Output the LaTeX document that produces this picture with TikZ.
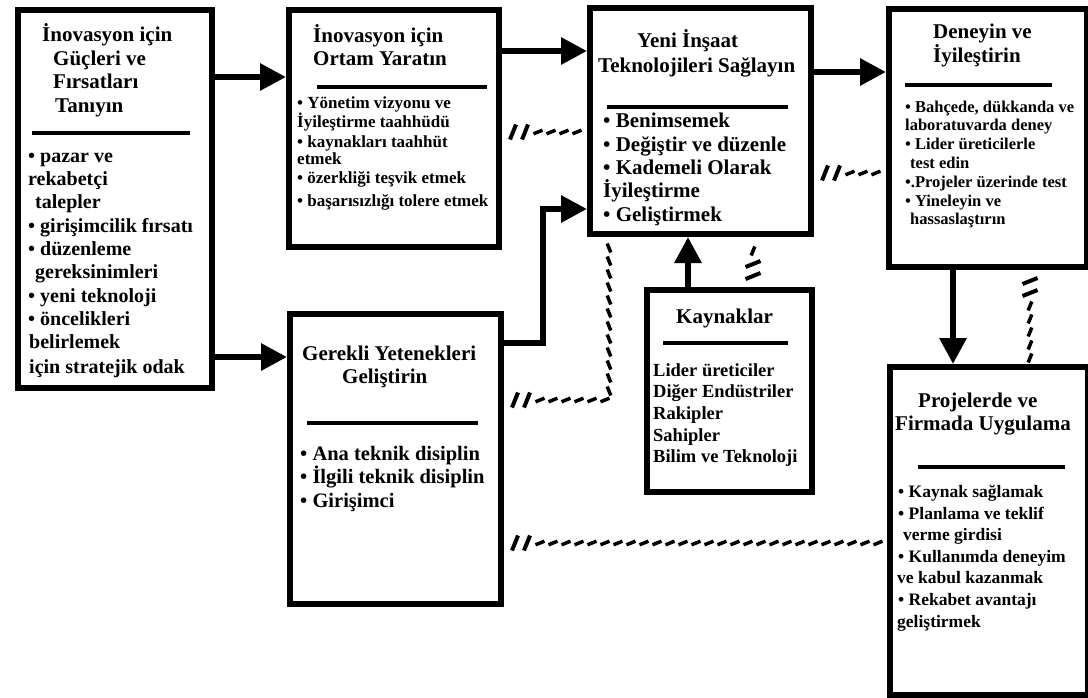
\documentclass[tikz,border=0pt]{standalone}
\usepackage{fontspec}
\setmainfont{Liberation Serif}
\usetikzlibrary{arrows.meta,decorations.markings}

\tikzset{
  box/.style={draw=black, line width=6pt, fill=white, inner sep=0pt, anchor=north west},
  txt/.style={font=\fontsize{#1}{#1}\selectfont\bfseries, anchor=base west, inner sep=0pt, text=black},
  rule/.style={line width=3.5pt},
  flow/.style={line width=6pt, -{Triangle[length=26pt,width=26pt]}},
  hatchstroke/.style={line width=4pt},
  dashstroke/.style={line width=3.5pt},
  % hatched feedback link; the value (1 or -1) sets the slant side
  fb/.style={postaction={decorate,decoration={markings,
      mark=at position 11pt with {\draw[hatchstroke] (-3pt,{-7.5pt*(#1)}) -- (3pt,{7.5pt*(#1)});},
      mark=at position 23pt with {\draw[hatchstroke] (-3pt,{-7.5pt*(#1)}) -- (3pt,{7.5pt*(#1)});},
      mark=between positions 36pt and -5pt step 13pt with
        {\draw[dashstroke] (-4.5pt,{-1.8pt*(#1)}) -- (4.5pt,{1.8pt*(#1)});}}}},
  fb/.default=1
}

% one text node per line: name prefix, size, list of x/y/text
\newcommand\txtlines[3]{%
  \foreach \x/\y/\t [count=\i] in {#3} {\node[txt=#2] (#1-\i) at (\x,\y) {\t};}}

\begin{document}
\begin{tikzpicture}[x=1pt,y=-1pt]
\useasboundingbox[fill=white] (0,0) rectangle (1088,697);

% boxes
\node[box, minimum width=194pt, minimum height=378pt] (b1) at (15,7) {};
\node[box, minimum width=210pt, minimum height=237pt] (b2) at (286,7) {};
\node[box, minimum width=221pt, minimum height=226pt] (b3) at (587,5) {};
\node[box, minimum width=198pt, minimum height=258pt] (b4) at (886,6) {};
\node[box, minimum width=211pt, minimum height=290pt] (b5) at (287,311) {};
\node[box, minimum width=165pt, minimum height=202pt] (b6) at (644,287) {};
\node[box, minimum width=198pt, minimum height=328pt] (b7) at (887,364) {};

% box 1
\txtlines{h1}{21}{42/41/İnovasyon için, 53/65/Güçleri ve, 53/88/Fırsatları, 55/112/Tanıyın}
\draw[rule] (32,133) -- (190,133);
\txtlines{l1}{20}{28/162/• pazar ve, 28/185/rekabetçi, 35/208/talepler,
  28/232/• girişimcilik fırsatı, 28/255/• düzenleme, 35/278/gereksinimleri,
  28/302/• yeni teknoloji, 28/325/• öncelikleri, 29/348/belirlemek, 29/373/için stratejik odak}

% box 2
\txtlines{h2}{21}{313/42/İnovasyon için, 313/65/Ortam Yaratın}
\draw[rule] (317,87) -- (487,87);
\txtlines{l2}{17}{297/108/• Yönetim vizyonu ve, 297/127/İyileştirme taahhüdü,
  297/147/• kaynakları taahhüt, 297/164/etmek, 297/183/• özerkliği teşvik etmek,
  297/206/• başarısızlığı tolere etmek}

% box 3
\txtlines{h3}{21}{637/47/Yeni İnşaat, 598/72/Teknolojileri Sağlayın}
\draw[rule] (607,107) -- (788,107);
\txtlines{l3}{21}{603/127/• Benimsemek, 603/151/• Değiştir ve düzenle,
  603/174/• Kademeli Olarak, 603/197/İyileştirme, 603/221/• Geliştirmek}

% box 4
\txtlines{h4}{21}{933/38/Deneyin ve, 933/62/İyileştirin}
\draw[rule] (905,85) -- (1052,85);
\txtlines{l4}{16.5}{905/112/{• Bahçede, dükkanda ve}, 905/130/laboratuvarda deney,
  905/149/• Lider üreticilerle, 910/168/test edin, 905/187/•.Projeler üzerinde test,
  905/206/• Yineleyin ve, 910/224/hassaslaştırın}

% box 5
\txtlines{h5}{21}{302/360/Gerekli Yetenekleri, 342/383/Geliştirin}
\draw[rule] (307,423) -- (478,423);
\txtlines{l5}{20.5}{300/460/• Ana teknik disiplin, 300/483/• İlgili teknik disiplin,
  300/507/• Girişimci}

% box 6
\txtlines{h6}{21}{676/323/Kaynaklar}
\draw[rule] (663,343) -- (788,343);
\txtlines{l6}{18.5}{653/376/Lider üreticiler, 653/397/Diğer Endüstriler,
  653/419/Rakipler, 653/441/Sahipler, 653/462/Bilim ve Teknoloji}

% box 7
\txtlines{h7}{21}{918/407/Projelerde ve, 895/430/Firmada Uygulama}
\draw[rule] (918,467) -- (1065,467);
\txtlines{l7}{17.5}{898/497/• Kaynak sağlamak, 898/519/• Planlama ve teklif,
  903/540/verme girdisi, 898/562/• Kullanımda deneyim, 897/583/ve kabul kazanmak,
  898/605/• Rekabet avantajı, 897/627/geliştirmek}

% main flow
\draw[flow] (b1.east |- 0,77) -- (b2.west |- 0,77);
\draw[flow] (b1.east |- 0,357) -- (b5.west |- 0,357);
\draw[flow] (b2.east |- 0,51) -- (b3.west |- 0,51);
\draw[flow] (b5.east |- 0,343) -- (543,343) -- (543,209) -- (b3.west |- 0,209);
\draw[flow] (b3.east |- 0,72) -- (b4.west |- 0,72);
\draw[flow] (b6.north -| 688,0) -- (b3.south -| 688,0);
\draw[flow] (b4.south -| 953,0) -- (b7.north -| 953,0);

% feedback links
\path[fb] (b2.east |- 0,132) -- (b3.west |- 0,132);
\path[fb] (b3.east |- 0,173) -- (b4.west |- 0,173);
\path[fb] (b5.east |- 0,400) -- (609,400) -- (609,0 |- b3.south);
\path[fb=-1] (b6.north -| 753,0) -- (b3.south -| 753,0);
\path[fb=-1] (b4.south -| 1030,0) -- (b7.north -| 1030,0);
\path[fb] (b5.east |- 0,543) -- (b7.west |- 0,543);
\end{tikzpicture}
\end{document}
